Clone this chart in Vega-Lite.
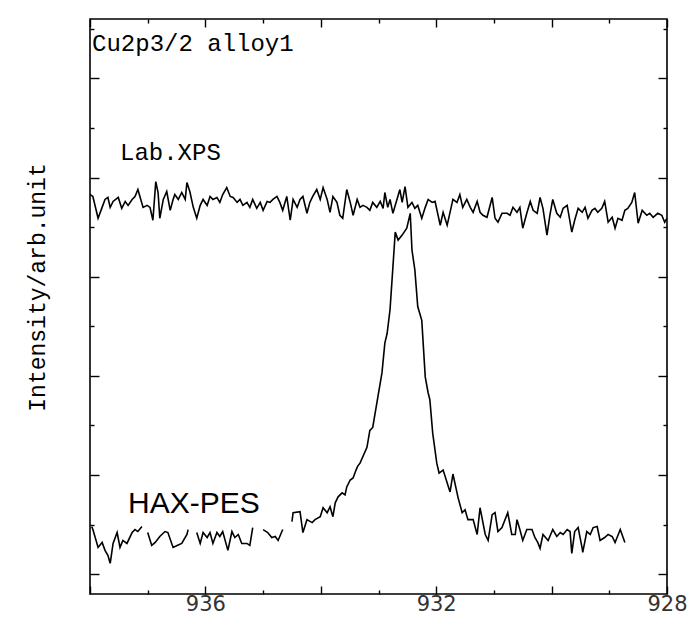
{
"$schema": "https://vega.github.io/schema/vega-lite/v6.json",
"width": 577, "height": 575,
"autosize": "none",
"padding": {"left": 90, "top": 19, "right": 24, "bottom": 24},
"background": "white",
"config": {"view": {"stroke": "black", "strokeWidth": 1.6}, "axis": {"domain": false, "grid": false, "tickColor": "black", "tickWidth": 1.4}},
"datasets": {
"lab": [
{"e":938.00,"i":403},{"e":937.95,"i":401},{"e":937.86,"i":379},{"e":937.79,"i":390},{"e":937.74,"i":398},{"e":937.69,"i":400},{"e":937.65,"i":390},{"e":937.60,"i":396},{"e":937.51,"i":400},{"e":937.45,"i":389},{"e":937.39,"i":396},{"e":937.34,"i":392},{"e":937.27,"i":398},{"e":937.22,"i":401},{"e":937.17,"i":408},{"e":937.13,"i":400},{"e":937.08,"i":390},{"e":937.01,"i":392},{"e":936.96,"i":390},{"e":936.91,"i":377},{"e":936.86,"i":416},{"e":936.82,"i":405},{"e":936.79,"i":379},{"e":936.73,"i":398},{"e":936.67,"i":406},{"e":936.61,"i":387},{"e":936.56,"i":398},{"e":936.53,"i":403},{"e":936.47,"i":398},{"e":936.41,"i":405},{"e":936.35,"i":398},{"e":936.32,"i":415},{"e":936.27,"i":406},{"e":936.21,"i":390},{"e":936.15,"i":379},{"e":936.09,"i":392},{"e":936.04,"i":398},{"e":935.97,"i":392},{"e":935.92,"i":401},{"e":935.87,"i":398},{"e":935.80,"i":400},{"e":935.75,"i":395},{"e":935.70,"i":403},{"e":935.63,"i":410},{"e":935.57,"i":401},{"e":935.52,"i":400},{"e":935.45,"i":395},{"e":935.40,"i":398},{"e":935.35,"i":392},{"e":935.28,"i":395},{"e":935.23,"i":390},{"e":935.18,"i":398},{"e":935.11,"i":389},{"e":935.05,"i":395},{"e":935.00,"i":387},{"e":934.93,"i":396},{"e":934.88,"i":395},{"e":934.83,"i":398},{"e":934.76,"i":401},{"e":934.71,"i":395},{"e":934.66,"i":387},{"e":934.59,"i":401},{"e":934.53,"i":377},{"e":934.48,"i":398},{"e":934.41,"i":390},{"e":934.36,"i":398},{"e":934.31,"i":401},{"e":934.24,"i":384},{"e":934.19,"i":395},{"e":934.14,"i":401},{"e":934.07,"i":408},{"e":934.01,"i":398},{"e":933.96,"i":410},{"e":933.89,"i":398},{"e":933.84,"i":385},{"e":933.79,"i":401},{"e":933.72,"i":395},{"e":933.67,"i":382},{"e":933.62,"i":379},{"e":933.55,"i":408},{"e":933.49,"i":395},{"e":933.44,"i":382},{"e":933.37,"i":398},{"e":933.32,"i":390},{"e":933.27,"i":392},{"e":933.20,"i":390},{"e":933.15,"i":387},{"e":933.10,"i":395},{"e":933.03,"i":390},{"e":932.97,"i":396},{"e":932.92,"i":389},{"e":932.89,"i":405},{"e":932.84,"i":390},{"e":932.80,"i":398},{"e":932.75,"i":384},{"e":932.68,"i":398},{"e":932.63,"i":408},{"e":932.59,"i":395},{"e":932.54,"i":411},{"e":932.49,"i":390},{"e":932.42,"i":395},{"e":932.37,"i":389},{"e":932.32,"i":392},{"e":932.25,"i":379},{"e":932.19,"i":390},{"e":932.14,"i":398},{"e":932.07,"i":395},{"e":932.02,"i":396},{"e":931.93,"i":372},{"e":931.88,"i":385},{"e":931.81,"i":372},{"e":931.76,"i":385},{"e":931.71,"i":398},{"e":931.64,"i":395},{"e":931.59,"i":403},{"e":931.54,"i":390},{"e":931.47,"i":398},{"e":931.41,"i":390},{"e":931.36,"i":385},{"e":931.29,"i":396},{"e":931.24,"i":385},{"e":931.19,"i":382},{"e":931.12,"i":380},{"e":931.03,"i":400},{"e":930.98,"i":379},{"e":930.93,"i":375},{"e":930.86,"i":384},{"e":930.77,"i":384},{"e":930.72,"i":382},{"e":930.67,"i":390},{"e":930.60,"i":385},{"e":930.55,"i":390},{"e":930.50,"i":369},{"e":930.43,"i":384},{"e":930.37,"i":396},{"e":930.32,"i":387},{"e":930.25,"i":384},{"e":930.20,"i":400},{"e":930.15,"i":389},{"e":930.08,"i":362},{"e":930.03,"i":382},{"e":929.98,"i":398},{"e":929.91,"i":384},{"e":929.85,"i":380},{"e":929.80,"i":389},{"e":929.73,"i":392},{"e":929.65,"i":365},{"e":929.60,"i":377},{"e":929.54,"i":389},{"e":929.47,"i":385},{"e":929.42,"i":390},{"e":929.37,"i":379},{"e":929.30,"i":387},{"e":929.25,"i":389},{"e":929.20,"i":385},{"e":929.13,"i":389},{"e":929.08,"i":396},{"e":929.02,"i":375},{"e":928.95,"i":380},{"e":928.90,"i":369},{"e":928.85,"i":379},{"e":928.78,"i":377},{"e":928.73,"i":387},{"e":928.68,"i":389},{"e":928.61,"i":395},{"e":928.56,"i":405},{"e":928.50,"i":374},{"e":928.43,"i":387},{"e":928.35,"i":382},{"e":928.30,"i":384},{"e":928.24,"i":380},{"e":928.16,"i":384},{"e":928.09,"i":382},{"e":928.04,"i":375},{"e":928.00,"i":379}
],
"hax": [
{"s":1,"e":937.97,"i":68},{"s":1,"e":937.95,"i":65},{"s":1,"e":937.86,"i":47},{"s":1,"e":937.79,"i":52},{"s":1,"e":937.74,"i":44},{"s":1,"e":937.69,"i":39},{"s":1,"e":937.65,"i":31},{"s":1,"e":937.60,"i":51},{"s":1,"e":937.53,"i":62},{"s":1,"e":937.48,"i":47},{"s":1,"e":937.43,"i":54},{"s":1,"e":937.36,"i":51},{"s":1,"e":937.27,"i":62},{"s":1,"e":937.22,"i":65},{"s":1,"e":937.17,"i":63},{"s":1,"e":937.10,"i":68},
{"s":2,"e":937.00,"i":62},{"s":2,"e":936.93,"i":49},{"s":2,"e":936.87,"i":52},{"s":2,"e":936.79,"i":58},{"s":2,"e":936.70,"i":63},{"s":2,"e":936.65,"i":62},{"s":2,"e":936.56,"i":47},{"s":2,"e":936.49,"i":49},{"s":2,"e":936.41,"i":51},{"s":2,"e":936.32,"i":60},{"s":2,"e":936.30,"i":65},
{"s":3,"e":936.15,"i":62},{"s":3,"e":936.09,"i":51},{"s":3,"e":936.04,"i":62},{"s":3,"e":935.97,"i":57},{"s":3,"e":935.92,"i":62},{"s":3,"e":935.87,"i":51},{"s":3,"e":935.80,"i":62},{"s":3,"e":935.75,"i":58},{"s":3,"e":935.70,"i":63},{"s":3,"e":935.61,"i":44},{"s":3,"e":935.54,"i":63},{"s":3,"e":935.49,"i":57},{"s":3,"e":935.43,"i":60},{"s":3,"e":935.37,"i":51},{"s":3,"e":935.28,"i":51},{"s":3,"e":935.23,"i":49},{"s":3,"e":935.18,"i":67},
{"s":4,"e":935.00,"i":65},{"s":4,"e":934.92,"i":62},{"s":4,"e":934.85,"i":57},{"s":4,"e":934.79,"i":58},{"s":4,"e":934.74,"i":54},{"s":4,"e":934.66,"i":65},
{"s":5,"e":934.50,"i":73},{"s":5,"e":934.48,"i":82},{"s":5,"e":934.36,"i":83},{"s":5,"e":934.31,"i":62},{"s":5,"e":934.24,"i":75},{"s":5,"e":934.15,"i":72},{"s":5,"e":934.10,"i":75},{"s":5,"e":934.01,"i":78},{"s":5,"e":933.96,"i":87},{"s":5,"e":933.89,"i":82},{"s":5,"e":933.84,"i":88},{"s":5,"e":933.79,"i":78},{"s":5,"e":933.75,"i":92},{"s":5,"e":933.70,"i":98},{"s":5,"e":933.63,"i":102},{"s":5,"e":933.58,"i":100},{"s":5,"e":933.55,"i":108},{"s":5,"e":933.49,"i":115},{"s":5,"e":933.44,"i":117},{"s":5,"e":933.39,"i":125},{"s":5,"e":933.36,"i":129},{"s":5,"e":933.32,"i":132},{"s":5,"e":933.20,"i":148},{"s":5,"e":933.15,"i":165},{"s":5,"e":933.10,"i":168},{"s":5,"e":933.01,"i":199},{"s":5,"e":932.94,"i":223},{"s":5,"e":932.89,"i":253},{"s":5,"e":932.85,"i":263},{"s":5,"e":932.80,"i":287},{"s":5,"e":932.75,"i":330},{"s":5,"e":932.71,"i":365},{"s":5,"e":932.66,"i":357},{"s":5,"e":932.59,"i":362},{"s":5,"e":932.51,"i":369},{"s":5,"e":932.45,"i":384},{"s":5,"e":932.42,"i":347},{"s":5,"e":932.37,"i":327},{"s":5,"e":932.32,"i":290},{"s":5,"e":932.25,"i":276},{"s":5,"e":932.19,"i":219},{"s":5,"e":932.14,"i":203},{"s":5,"e":932.11,"i":196},{"s":5,"e":932.06,"i":162},{"s":5,"e":931.99,"i":132},{"s":5,"e":931.95,"i":122},{"s":5,"e":931.88,"i":125},{"s":5,"e":931.76,"i":103},{"s":5,"e":931.71,"i":121},{"s":5,"e":931.62,"i":97},{"s":5,"e":931.55,"i":82},{"s":5,"e":931.50,"i":85},{"s":5,"e":931.45,"i":75},{"s":5,"e":931.36,"i":75},{"s":5,"e":931.29,"i":60},{"s":5,"e":931.24,"i":87},{"s":5,"e":931.15,"i":60},{"s":5,"e":931.10,"i":54},{"s":5,"e":931.03,"i":80},{"s":5,"e":930.98,"i":82},{"s":5,"e":930.93,"i":63},{"s":5,"e":930.86,"i":67},{"s":5,"e":930.76,"i":82},{"s":5,"e":930.69,"i":60},{"s":5,"e":930.63,"i":60},{"s":5,"e":930.60,"i":75},{"s":5,"e":930.55,"i":65},{"s":5,"e":930.50,"i":54},{"s":5,"e":930.43,"i":65},{"s":5,"e":930.34,"i":65},{"s":5,"e":930.29,"i":57},{"s":5,"e":930.24,"i":52},{"s":5,"e":930.20,"i":46},{"s":5,"e":930.15,"i":60},{"s":5,"e":930.06,"i":54},{"s":5,"e":929.98,"i":65},{"s":5,"e":929.91,"i":58},{"s":5,"e":929.85,"i":62},{"s":5,"e":929.80,"i":60},{"s":5,"e":929.73,"i":65},{"s":5,"e":929.68,"i":63},{"s":5,"e":929.65,"i":41},{"s":5,"e":929.60,"i":63},{"s":5,"e":929.54,"i":67},{"s":5,"e":929.47,"i":46},{"s":5,"e":929.46,"i":42},{"s":5,"e":929.39,"i":63},{"s":5,"e":929.33,"i":60},{"s":5,"e":929.28,"i":67},{"s":5,"e":929.21,"i":68},{"s":5,"e":929.16,"i":54},{"s":5,"e":929.08,"i":57},{"s":5,"e":929.02,"i":60},{"s":5,"e":928.95,"i":58},{"s":5,"e":928.90,"i":52},{"s":5,"e":928.81,"i":65},{"s":5,"e":928.73,"i":52}
],
"mono": [{"t":"Cu2p3/2 alloy1","e":937.965,"i":548},{"t":"Lab.XPS","e":937.48,"i":438}],
"sans": [{"t":"HAX-PES","e":937.34,"i":82}]
},
"layer": [
{"data": {"name": "lab"},
 "mark": {"type": "line", "color": "black", "strokeWidth": 1.6, "clip": true},
 "encoding": {
  "x": {"field": "e", "type": "quantitative", "scale": {"domain": [928, 938], "reverse": true, "nice": false, "zero": false},
        "axis": {"orient": "bottom", "title": null, "values": [928,929,930,931,932,933,934,935,936,937,938],
                 "tickSize": {"condition": {"test": "datum.value % 2 === 0", "value": -8}, "value": -4},
                 "labelExpr": "datum.value % 4 === 0 ? datum.label : ''", "labelFlush": false, "labelPadding": 7,
                 "labelFont": "DejaVu Sans", "labelFontWeight": "normal", "labelFontSize": 21, "labelColor": "#333"}},
  "y": {"field": "i", "type": "quantitative", "scale": {"domain": [0, 580], "nice": false, "zero": false},
        "axis": {"orient": "left", "values": [20,70,120,170,220,270,320,370,420,470,520,570],
                 "tickSize": {"condition": {"test": "(datum.value - 20) % 100 === 0", "value": -9}, "value": -4},
                 "labels": false, "title": "Intensity/arb.unit", "titleFont": "Liberation Mono", "titleFontSize": 23,
                 "titleFontWeight": "normal", "titleColor": "black", "titlePadding": 40, "titleY": 268}}
 }},
{"data": {"name": "hax"},
 "mark": {"type": "line", "color": "black", "strokeWidth": 1.6, "clip": true},
 "encoding": {
  "x": {"field": "e", "type": "quantitative",
        "axis": {"orient": "top", "title": null, "labels": false, "values": [928,929,930,931,932,933,934,935,936,937,938],
                 "tickSize": {"condition": {"test": "datum.value % 2 === 0", "value": -8}, "value": -4}}},
  "y": {"field": "i", "type": "quantitative",
        "axis": {"orient": "right", "title": null, "labels": false, "values": [20,70,120,170,220,270,320,370,420,470,520,570],
                 "tickSize": {"condition": {"test": "(datum.value - 20) % 100 === 0", "value": -9}, "value": -4}}},
  "detail": {"field": "s", "type": "nominal"}
 }},
{"data": {"name": "mono"},
 "mark": {"type": "text", "font": "Liberation Mono", "fontSize": 24, "align": "left", "baseline": "alphabetic", "color": "black"},
 "encoding": {
  "x": {"field": "e", "type": "quantitative", "axis": null},
  "y": {"field": "i", "type": "quantitative", "axis": null},
  "text": {"field": "t"}
 }},
{"data": {"name": "sans"},
 "mark": {"type": "text", "font": "Liberation Sans", "fontSize": 30, "align": "left", "baseline": "alphabetic", "color": "black"},
 "encoding": {
  "x": {"field": "e", "type": "quantitative", "axis": null},
  "y": {"field": "i", "type": "quantitative", "axis": null},
  "text": {"field": "t"}
 }}
],
"resolve": {"axis": {"x": "independent", "y": "independent"}}
}
